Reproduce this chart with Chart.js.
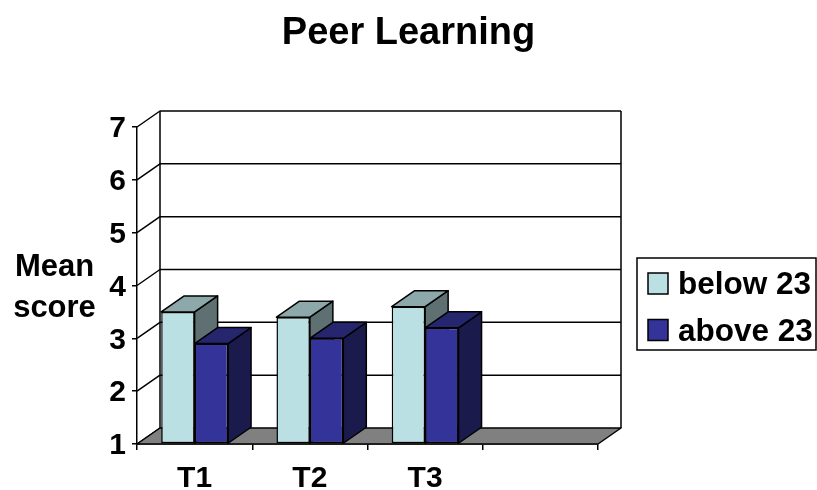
<!DOCTYPE html>
<html lang="en">
<head>
    <meta charset="UTF-8">
    <title>Peer Learning</title>
    <script src="https://cdn.jsdelivr.net/npm/chart.js"></script>
    <style>
        body { margin: 0; padding: 0; background: #fff; }
        canvas { display: block; }
    </style>
</head>
<body>
    <canvas id="peerChart" width="817" height="490"></canvas>

    <script>
        const categories = ['T1', 'T2', 'T3', ''];
        const below23 = [3.5, 3.4, 3.6, null];
        const above23 = [2.9, 3.0, 3.2, null];
        const yTicks = [1, 2, 3, 4, 5, 6, 7];
        const axisTitleLines = ['Mean', 'score'];

        const FONT = '"Liberation Sans", Arial, sans-serif';
        const DEPTH_X = 23, DEPTH_Y = -16;
        const LINE = 1.5;

        const faces = [
            { front: '#bbe0e3', top: '#8ca8aa', side: '#5e7071' },
            { front: '#333399', top: '#26266f', side: '#1a1a4d' }
        ];

        function poly(ctx, pts, fill) {
            ctx.beginPath();
            pts.forEach((p, i) => i ? ctx.lineTo(p[0], p[1]) : ctx.moveTo(p[0], p[1]));
            ctx.closePath();
            if (fill) { ctx.fillStyle = fill; ctx.fill(); }
            ctx.stroke();
        }

        const boxPlugin = {
            id: 'box3d',
            // the right padding only reserves room for the legend, keep the title centred on the page
            afterLayout(chart) {
                chart.titleBlock.left = 0;
                chart.titleBlock.right = chart.width;
            },
            beforeDatasetsDraw(chart) {
                const { ctx, chartArea: a, scales: { y } } = chart;
                ctx.save();
                ctx.strokeStyle = '#000';
                ctx.lineWidth = LINE;
                ctx.lineJoin = 'round';

                // back wall, left wall and floor
                yTicks.forEach(t => {
                    const py = y.getPixelForValue(t);
                    ctx.beginPath();
                    ctx.moveTo(a.left, py);
                    ctx.lineTo(a.left + DEPTH_X, py + DEPTH_Y);
                    if (t > 1) ctx.lineTo(a.right + DEPTH_X, py + DEPTH_Y);
                    ctx.stroke();
                });
                ctx.beginPath();
                ctx.moveTo(a.left + DEPTH_X, a.top + DEPTH_Y);
                ctx.lineTo(a.left + DEPTH_X, a.bottom + DEPTH_Y);
                ctx.moveTo(a.right + DEPTH_X, a.top + DEPTH_Y);
                ctx.lineTo(a.right + DEPTH_X, a.bottom + DEPTH_Y);
                ctx.stroke();
                poly(ctx, [
                    [a.left, a.bottom], [a.right, a.bottom],
                    [a.right + DEPTH_X, a.bottom + DEPTH_Y], [a.left + DEPTH_X, a.bottom + DEPTH_Y]
                ], '#808080');

                // top and side of each bar; the front faces come from Chart.js afterwards
                chart.data.datasets.forEach((ds, di) => {
                    const colors = faces[di];
                    chart.getDatasetMeta(di).data.forEach((bar, i) => {
                        if (ds.data[i] === null) return;
                        const { x, y: top, base, width } = bar.getProps(['x', 'y', 'base', 'width']);
                        const l = x - width / 2, r = x + width / 2;
                        poly(ctx, [[r, top], [r + DEPTH_X, top + DEPTH_Y], [r + DEPTH_X, base + DEPTH_Y], [r, base]], colors.side);
                        poly(ctx, [[l, top], [l + DEPTH_X, top + DEPTH_Y], [r + DEPTH_X, top + DEPTH_Y], [r, top]], colors.top);
                    });
                });
                ctx.restore();
            },
            afterDraw(chart) {
                const { ctx } = chart;
                ctx.save();
                ctx.fillStyle = '#000';
                ctx.font = 'bold 31px ' + FONT;
                ctx.textAlign = 'center';
                ctx.textBaseline = 'alphabetic';
                axisTitleLines.forEach((s, i) => ctx.fillText(s, 54.5, 276 + i * 40.5));

                // legend
                ctx.strokeStyle = '#000';
                ctx.lineWidth = LINE;
                ctx.strokeRect(637, 258, 179, 92);
                ctx.font = 'bold 31.5px ' + FONT;
                ctx.textAlign = 'left';
                chart.data.datasets.forEach((ds, i) => {
                    const top = 273 + i * 46.5;
                    ctx.fillStyle = ds.backgroundColor;
                    ctx.fillRect(648, top, 20, 21);
                    ctx.strokeRect(648, top, 20, 21);
                    ctx.fillStyle = '#000';
                    ctx.fillText(ds.label, 678, top + 21);
                });
                ctx.restore();
            }
        };

        new Chart(document.getElementById('peerChart'), {
            type: 'bar',
            data: {
                labels: categories,
                datasets: [
                    { label: 'below 23', data: below23, base: 1, clip: false, backgroundColor: faces[0].front, borderColor: '#000', borderWidth: LINE, borderSkipped: false },
                    { label: 'above 23', data: above23, base: 1, clip: false, backgroundColor: faces[1].front, borderColor: '#000', borderWidth: LINE, borderSkipped: false }
                ]
            },
            options: {
                responsive: false,
                animation: false,
                categoryPercentage: 0.58,
                barPercentage: 1,
                layout: { padding: { right: 219 } },
                plugins: {
                    legend: { display: false },
                    tooltip: { enabled: false },
                    title: {
                        display: true,
                        text: 'Peer Learning',
                        color: '#000',
                        font: { family: FONT, size: 38, weight: 'bold', lineHeight: 1.2 },
                        padding: { top: 11, bottom: 70.4 }
                    }
                },
                scales: {
                    x: {
                        afterFit(scale) { scale.height = 46; },
                        grid: { drawOnChartArea: false, color: '#000', lineWidth: LINE, tickLength: 6 },
                        border: { color: '#000', width: LINE },
                        ticks: {
                            color: '#000',
                            padding: 11,
                            maxRotation: 0,
                            autoSkip: false,
                            font: { family: FONT, size: 30, weight: 'bold' }
                        }
                    },
                    y: {
                        min: 1,
                        max: 7,
                        afterFit(scale) { scale.width = 137; },
                        afterBuildTicks(scale) { scale.ticks = yTicks.map(value => ({ value })); },
                        grid: { drawOnChartArea: false, color: '#000', lineWidth: LINE, tickLength: 5 },
                        border: { color: '#000', width: LINE },
                        ticks: {
                            color: '#000',
                            padding: 6,
                            labelOffset: 2,
                            font: { family: FONT, size: 30, weight: 'bold' }
                        }
                    }
                }
            },
            plugins: [boxPlugin]
        });
    </script>
</body>
</html>
